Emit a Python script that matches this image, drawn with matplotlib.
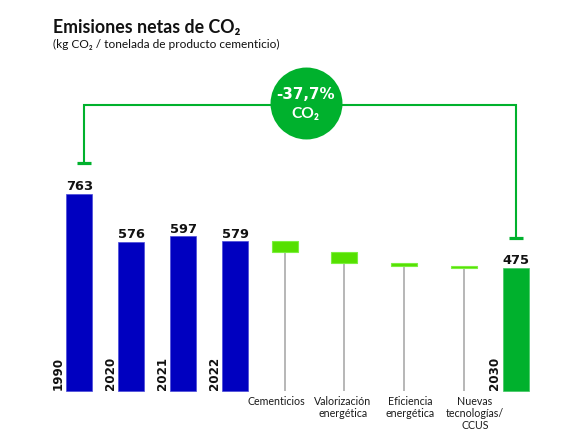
import numpy as np
import matplotlib.pyplot as plt

# data
years = ['1990', '2020', '2021', '2022']
emissions = [763, 576, 597, 579]
levers = ['Cementicios', 'Valorización\nenergética', 'Eficiencia\nenergética',
          'Nuevas\ntecnologías/\nCCUS']
reductions = [43, 41, 12, 8]
target_year = '2030'
target = 475

# layout (x in slot units, 1 unit ~ 52 px)
x_years = [0, 1, 2, 3]
x_levers = [3.95, 5.1, 6.25, 7.4]
x_label_levers = [3.80, 5.07, 6.37, 7.61]
x_target = 8.4
px = 0.258          # pixels per kg unit
W, H = 585, 446

blue = '#0000c0'
lime = '#55e000'
green = '#00b12d'
grey = '#aaaaaa'
sans = ['Lato', 'DejaVu Sans']

fig = plt.figure(figsize=(W / 100, H / 100), dpi=100)
ax = fig.add_axes([0, 0, 1, 1])
ax.axis('off')
ax.set_xlim(-79.2 / 52, (W - 79.2) / 52)
ax.set_ylim(-55.5 / px, (H - 55.5) / px)

bw = 0.5
ax.bar(x_years, emissions, width=bw, color=blue, edgecolor='#4a4ad8', linewidth=0.5)
ax.bar([x_target], [target], width=bw, color=green, edgecolor='#3fc860', linewidth=0.5)

# waterfall of levers
start = emissions[-1]
tops = start - np.concatenate([[0], np.cumsum(reductions)[:-1]])
bottoms = tops - np.array(reductions)
ax.vlines(x_levers, 0, bottoms, color=grey, linewidth=1.2, zorder=1)
ax.bar(x_levers, reductions, bottom=bottoms, width=bw, color=lime,
       edgecolor='#7cf040', linewidth=0.8, zorder=2)

# value and year labels
for x, v, y in zip(x_years + [x_target], emissions + [target], years + [target_year]):
    ax.text(x, v + 3.5 / px, str(v), ha='center', va='baseline',
            fontsize=9.4, fontweight='bold', color='#111111', family='DejaVu Sans')
    ax.text(x - bw / 2 - 0.03, 0, y, rotation=90, ha='right', va='bottom',
            fontsize=8.6, fontweight='bold', color='#111111', family='DejaVu Sans')

for x, lab in zip(x_label_levers, levers):
    ax.text(x, -5.5 / px, lab, ha='center', va='top', fontsize=7.7,
            color='#1a1a1a', family=sans, linespacing=1.1)

# bracket 1990 -> 2030
gap = 118
top_y = 1107
xl = x_years[0] + 0.1
ax.plot([xl, xl, x_target, x_target],
        [emissions[0] + gap, top_y, top_y, target + gap],
        color=green, linewidth=1.5, solid_joinstyle='miter', zorder=3)
for xx, yy in [(xl, emissions[0] + gap), (x_target, target + gap)]:
    ax.plot([xx - 0.135, xx + 0.135], [yy, yy], color=green, linewidth=2.3,
            solid_capstyle='butt')

pct = (target - emissions[0]) / emissions[0] * 100
cx = 4.352
ax.plot([cx], [top_y + 8], 'o', markersize=51.8, color=green, markeredgewidth=0, zorder=4)
ax.text(cx, top_y + 41, f'{pct:.1f}%'.replace('.', ','), ha='center', va='center',
        fontsize=10.8, fontweight='bold', color='white', family='DejaVu Sans', zorder=5)
ax.text(cx, top_y - 35, 'CO₂', ha='center', va='center',
        fontsize=11.2, fontweight='bold', color='white', family=sans, zorder=5)

fig.text(52.7 / W, 1 - 32.7 / H, 'Emisiones netas de CO₂', ha='left', va='baseline',
         fontsize=12.8, fontweight='bold', color='#111111', family=sans)
fig.text(52.7 / W, 1 - 48.3 / H, '(kg CO₂ / tonelada de producto cementicio)',
         ha='left', va='baseline', fontsize=8.6, color='#111111', family=sans)

plt.savefig('out.png', dpi=100)
